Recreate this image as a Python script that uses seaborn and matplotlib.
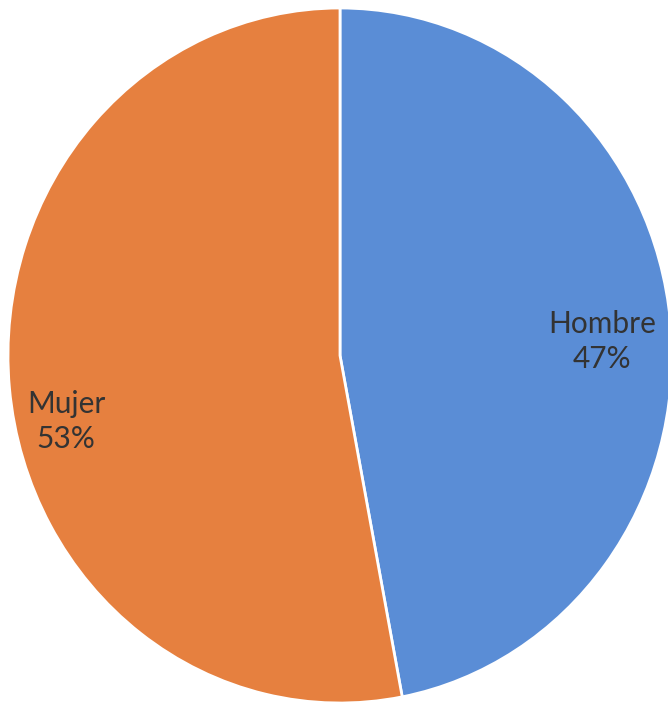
import matplotlib
matplotlib.use("Agg")
import matplotlib.pyplot as plt
import seaborn as sns
import numpy as np

categories = ["Hombre", "Mujer"]
shares = [47, 53]
colors = ["#5A8DD6", "#E6803F"]

sns.set_theme(style="white")
plt.rcParams["font.family"] = ["Lato", "DejaVu Sans"]

fig = plt.figure(figsize=(6.68, 7.06), dpi=100)
W, H = 668, 706
# axes box spans the ellipse of the pie (slightly taller than wide)
left, right, top, bottom = 8, 672, 8, 703
ax = fig.add_axes([left / W, 1 - bottom / H, (right - left) / W, (bottom - top) / H])

wedges, _ = ax.pie(
    shares,
    colors=colors,
    startangle=90,
    counterclock=False,
    radius=1.0,
    wedgeprops=dict(edgecolor="white", linewidth=2),
)
ax.set_aspect("auto")
ax.set_xlim(-1, 1)
ax.set_ylim(-1, 1)
ax.axis("off")

total = sum(shares)
label_pos = {"Hombre": (0.79, 0.04), "Mujer": (-0.825, -0.19)}
for cat, val in zip(categories, shares):
    x, y = label_pos[cat]
    ax.text(x, y, f"{cat}\n{round(100 * val / total)}%", ha="center", va="center",
            fontsize=21.5, color="#333333", linespacing=1.32)

fig.savefig("out.png", dpi=100, facecolor="white")
